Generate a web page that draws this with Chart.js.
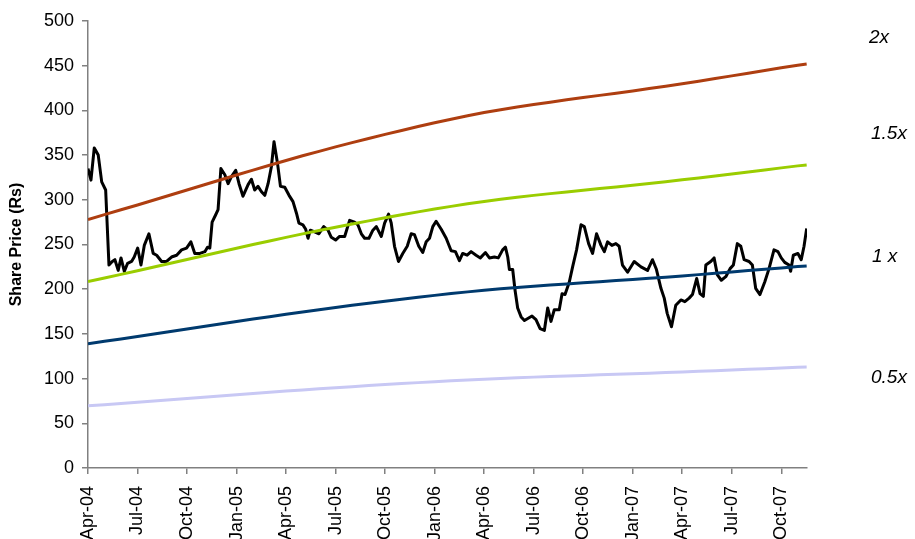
<!DOCTYPE html>
<html>
<head>
<meta charset="utf-8">
<script src="https://cdn.jsdelivr.net/npm/chart.js@4.4.1/dist/chart.umd.min.js"></script>
<style>
  html, body { margin: 0; padding: 0; background: #ffffff; }
  #wrap { width: 915px; height: 539px; position: relative; }
</style>
</head>
<body>
<div id="wrap"><canvas id="c" width="915" height="539"></canvas></div>
<script>
// ---- Data (months counted from Apr-04 = 0) ----
const tickLabels = ["Apr-04","Jul-04","Oct-04","Jan-05","Apr-05","Jul-05","Oct-05","Jan-06",
                    "Apr-06","Jul-06","Oct-06","Jan-07","Apr-07","Jul-07","Oct-07"];
const tickMonths = [0,3,6,9,12,15,18,21,24,27,30,33,36,39,42];

const priceMonths = [0,0.18,0.38,0.62,0.83,1.07,1.27,1.47,1.63,1.83,2.00,2.20,2.40,2.64,2.80,3.01,3.21,3.41,3.69,3.95,
 4.16,4.46,4.76,5.06,5.37,5.67,5.97,6.23,6.47,6.78,7.08,7.24,7.38,7.52,7.73,7.88,8.05,8.29,8.49,8.69,
 8.95,9.15,9.39,9.70,9.90,10.10,10.30,10.51,10.71,10.91,11.11,11.27,11.48,11.66,11.92,12.18,12.42,12.63,12.78,13.02,
 13.19,13.33,13.47,13.73,13.99,14.28,14.54,14.74,15.00,15.24,15.55,15.85,16.15,16.35,16.56,16.76,17.02,17.26,17.47,17.77,
 17.97,18.21,18.37,18.57,18.81,19.07,19.34,19.58,19.78,20.04,20.28,20.49,20.69,20.89,21.09,21.40,21.70,22.00,22.26,22.50,
 22.70,22.97,23.21,23.51,23.77,24.08,24.32,24.62,24.86,25.12,25.29,25.43,25.53,25.73,25.87,26.03,26.24,26.44,26.90,27.14,
 27.39,27.65,27.85,28.05,28.25,28.55,28.72,28.90,29.16,29.36,29.60,29.87,30.07,30.33,30.57,30.81,31.08,31.28,31.48,31.74,
 31.98,32.18,32.38,32.69,33.09,33.50,33.90,34.20,34.44,34.71,34.91,35.09,35.35,35.61,35.92,36.16,36.42,36.62,36.88,37.08,
 37.28,37.43,37.73,37.93,38.13,38.37,38.64,38.90,39.10,39.34,39.55,39.75,40.05,40.25,40.45,40.71,41.00,41.26,41.56,41.80,
 42.00,42.21,42.47,42.57,42.73,43.01,43.21,43.38,43.54];

const priceValues = [335,322,358,350,320,311,227,231,233,221,235,220,229,231,236,246,227,249,262,240,
 238,231,231,236,238,244,246,253,240,240,242,247,246,275,283,289,335,328,318,326,
 333,318,304,317,323,311,315,309,305,318,337,365,341,315,314,305,298,285,274,272,
 267,257,266,264,262,270,266,258,255,259,259,277,275,272,262,257,257,266,270,259,
 274,284,274,248,231,240,248,262,261,248,241,253,257,270,276,267,257,243,242,232,
 240,238,242,238,235,241,235,236,235,244,247,236,222,222,199,179,169,165,170,166,
 156,154,179,164,177,177,195,194,208,225,244,272,270,251,240,262,249,242,253,249,
 251,248,227,219,231,225,221,233,222,201,190,173,158,182,188,186,190,194,212,195,
 192,227,231,235,216,210,214,223,227,251,248,233,231,227,201,194,208,223,244,242,
 235,230,227,220,238,240,233,248,268];

// Monthly earnings base (1x line), Apr-04 .. Nov-07, last entry at the final price date
const epsValues = [139.0,141.7,144.4,147.1,149.9,152.7,155.5,158.3,161.1,163.9,166.6,169.3,
 172.0,174.6,177.1,179.6,182.0,184.3,186.6,188.8,191.0,193.1,195.1,197.0,
 198.8,200.4,201.9,203.3,204.6,205.9,207.2,208.4,209.6,210.9,212.2,213.5,
 214.9,216.3,217.8,219.3,220.8,222.3,223.8,225.3,226.0];

const bandMultiples = [2, 1.5, 1, 0.5];
const bandLabels = ["2x", "1.5x", "1 x", "0.5x"];
const bandColors = ["#AE3E10", "#9ACD00", "#003A6E", "#C8C8F4"];

// ---- Build datasets ----
const lastMonth = priceMonths[priceMonths.length - 1];
const epsMonths = epsValues.map((v, i) => (i < epsValues.length - 1 ? i : lastMonth));

const datasets = bandMultiples.map((m, k) => ({
  label: bandLabels[k],
  data: epsValues.map((v, i) => ({ x: epsMonths[i], y: v * m })),
  borderColor: bandColors[k],
  borderWidth: 3,
  pointRadius: 0,
  tension: 0,
  order: 1
}));
datasets.push({
  label: "Share Price",
  data: priceValues.map((v, i) => ({ x: priceMonths[i], y: v })),
  borderColor: "#000000",
  borderWidth: 3,
  pointRadius: 0,
  tension: 0,
  borderJoinStyle: "round",
  order: 10
});

const FONT = "'Liberation Sans', Arial, sans-serif";

const rightLabels = {
  id: "rightLabels",
  afterDraw(chart) {
    const ctx = chart.ctx;
    const pos = [[869, 38], [871, 134], [872, 257], [871, 378]];
    ctx.save();
    ctx.fillStyle = "#000";
    ctx.font = "italic 19px " + FONT;
    ctx.textBaseline = "middle";
    ctx.textAlign = "left";
    bandLabels.forEach((t, i) => ctx.fillText(t, pos[i][0], pos[i][1]));
    ctx.restore();
  }
};

new Chart(document.getElementById("c"), {
  type: "line",
  data: { datasets },
  plugins: [rightLabels],
  options: {
    responsive: false,
    animation: false,
    layout: { padding: { top: 21, right: 108, left: 0, bottom: 0 } },
    plugins: { legend: { display: false }, tooltip: { enabled: false } },
    scales: {
      x: {
        type: "linear",
        min: 0,
        max: lastMonth + 0.02,
        afterBuildTicks(axis) { axis.ticks = tickMonths.map(v => ({ value: v })); },
        afterFit(axis) { axis.height = 71; },
        ticks: {
          autoSkip: false,
          minRotation: 90,
          maxRotation: 90,
          padding: 12,
          color: "#000",
          font: { family: FONT, size: 18 },
          callback(value) {
            const i = tickMonths.indexOf(value);
            return i >= 0 ? tickLabels[i] : "";
          }
        },
        grid: { display: true, drawOnChartArea: false, drawTicks: true, tickLength: 6, color: "#808080", lineWidth: 1.5 },
        border: { display: true, color: "#808080", width: 1.5 }
      },
      y: {
        min: 0,
        max: 500,
        afterFit(axis) { axis.width = 88; },
        ticks: {
          stepSize: 50,
          padding: 8,
          color: "#000",
          font: { family: FONT, size: 18 }
        },
        title: {
          display: true,
          text: "Share Price (Rs)",
          color: "#000",
          font: { family: FONT, size: 16, weight: "bold" },
          padding: { top: 7, bottom: 0 }
        },
        grid: { display: true, drawOnChartArea: false, drawTicks: true, tickLength: 6, color: "#808080", lineWidth: 1.5 },
        border: { display: true, color: "#808080", width: 1.5 }
      }
    }
  }
});
</script>
</body>
</html>
